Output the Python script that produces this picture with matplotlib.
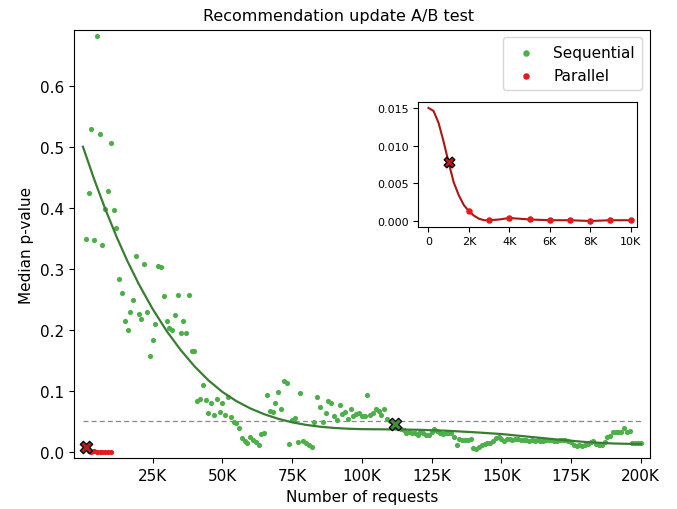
import matplotlib
matplotlib.use("Agg")
import matplotlib.pyplot as plt
from matplotlib.ticker import FuncFormatter, FixedLocator

# ---------------- data ----------------
seq_k = list(range(1, 201))  # thousands of requests
seq_p = [
    0.349, 0.424, 0.529, 0.347, 0.682, 0.521, 0.339, 0.398, 0.428, 0.506,
    0.397, 0.367, 0.283, 0.261, 0.214, 0.199, 0.229, 0.248, 0.321, 0.226,
    0.218, 0.307, 0.2295, 0.157, 0.183, 0.209, 0.304, 0.302, 0.255, 0.215,
    0.203, 0.1995, 0.224, 0.257, 0.1946, 0.214, 0.195, 0.257, 0.165, 0.1656,
    0.0836, 0.0864, 0.110, 0.0842, 0.0634, 0.080, 0.0607, 0.0858, 0.0645, 0.0804,
    0.0607, 0.0897, 0.0563, 0.0492, 0.0476, 0.0389, 0.022, 0.0176, 0.0143, 0.0235,
    0.0191, 0.0153, 0.0115, 0.029, 0.0306, 0.0935, 0.0661, 0.065, 0.080, 0.0984,
    0.070, 0.1164, 0.112, 0.012, 0.052, 0.0558, 0.0164, 0.0957, 0.0176, 0.0143,
    0.011, 0.0077, 0.0492, 0.0897, 0.0733, 0.0492, 0.064, 0.0825, 0.0804, 0.0591,
    0.0514, 0.076, 0.0618, 0.065, 0.053, 0.0695, 0.059, 0.0618, 0.0634, 0.059,
    0.058, 0.0924, 0.0602, 0.0629, 0.0706, 0.0673, 0.0602, 0.0695, 0.0536, 0.0509,
    0.0454, 0.0454, 0.041, 0.038, 0.035, 0.031, 0.032, 0.030, 0.031, 0.027,
    0.032, 0.031, 0.027, 0.028, 0.033, 0.037, 0.034, 0.031, 0.029, 0.031,
    0.030, 0.031, 0.024, 0.011, 0.021, 0.020, 0.019, 0.020, 0.021, 0.006,
    0.0044, 0.0085, 0.011, 0.0126, 0.014, 0.015, 0.017, 0.022, 0.024, 0.021,
    0.018, 0.021, 0.021, 0.020, 0.021, 0.021, 0.020, 0.019, 0.020, 0.018,
    0.019, 0.018, 0.019, 0.017, 0.018, 0.019, 0.020, 0.019, 0.017, 0.018,
    0.019, 0.0197, 0.019, 0.018, 0.0164, 0.0115, 0.0099, 0.011, 0.0099, 0.011,
    0.0126, 0.0153, 0.018, 0.0126, 0.011, 0.0115, 0.0153, 0.0235, 0.0252, 0.0317,
    0.0328, 0.0317, 0.0328, 0.0388, 0.0317, 0.0334, 0.0137, 0.0137, 0.0137, 0.0142,
]

seq_fit_k = [0, 4, 8, 12, 16, 20, 25, 30, 35, 40, 45, 50, 55, 60, 65, 70, 75, 80,
             85, 90, 95, 100, 110, 120, 130, 140, 150, 160, 170, 180, 190, 200]
seq_fit_p = [0.500, 0.447, 0.398, 0.353, 0.312, 0.275, 0.234, 0.198, 0.167, 0.140,
             0.117, 0.098, 0.083, 0.071, 0.0615, 0.054, 0.0482, 0.044, 0.041, 0.039,
             0.0377, 0.037, 0.0366, 0.036, 0.0345, 0.032, 0.029, 0.0245, 0.020, 0.016,
             0.0135, 0.0125]

par_k = [1, 2, 3, 4, 5, 6, 7, 8, 9, 10]
par_p = [0.0078, 0.0013, 0.0001, 0.0004, 0.0002, 0.0001, 0.0001, 0.0000, 0.0001, 0.0001]

par_fit_k = [0, 0.25, 0.5, 0.75, 1.0, 1.25, 1.5, 1.75, 2.0, 2.25, 2.5, 2.75, 3.0,
             3.5, 4.0, 4.5, 5, 6, 7, 8, 9, 10]
par_fit_p = [0.0150, 0.0146, 0.0130, 0.0105, 0.0077, 0.0051, 0.0034, 0.0021, 0.0013,
             0.0007, 0.0003, 0.0001, 0.0001, 0.0002, 0.0004, 0.0003, 0.0002, 0.0001,
             0.0001, 0.0000, 0.0001, 0.0001]

seq_cross_k, seq_cross_p = 112, 0.0454
par_cross_k, par_cross_p = 1, 0.0078
threshold = 0.05

main_xticks_k = [25, 50, 75, 100, 125, 150, 175, 200]
main_yticks = [0.0, 0.1, 0.2, 0.3, 0.4, 0.5, 0.6]
inset_xticks_k = [0, 2, 4, 6, 8, 10]
inset_yticks = [0.000, 0.005, 0.010, 0.015]

# ---------------- style ----------------
GREEN = "#4daf4a"
GREEN_LINE = "#387d32"
RED = "#e41a1c"
RED_LINE = "#ad1414"


def kfmt(x, pos):
    if x == 0:
        return "0"
    return f"{x/1000:.0f}K"


fig = plt.figure(figsize=(6.77, 5.10), dpi=100)
ax = fig.add_axes([0.1093, 0.0994, 0.8508, 0.8406])

sx = [k * 1000 for k in seq_k]
ax.scatter(sx, seq_p, s=14, color=GREEN, label="Sequential", zorder=2, linewidths=0)
ax.scatter([k * 1000 for k in par_k[1:]], par_p[1:], s=14, color=RED,
           label="Parallel", zorder=2, linewidths=0)
ax.plot([k * 1000 for k in seq_fit_k], seq_fit_p, color=GREEN_LINE, lw=1.6, zorder=3)
ax.hlines(threshold, 0, 200000, colors="#888888", linestyles=(0, (4, 2.5)), lw=0.9, zorder=1)
ax.scatter([seq_cross_k * 1000], [seq_cross_p], marker="X", s=80, color="#3f8f3a",
           edgecolors="black", linewidths=0.9, zorder=5)
ax.scatter([par_cross_k * 1000], [par_cross_p], marker="X", s=80, color="#b51e1e",
           edgecolors="black", linewidths=0.9, zorder=5)

ax.set_xlim(-3200, 203300)
ax.set_ylim(-0.0108, 0.692)
ax.xaxis.set_major_locator(FixedLocator([k * 1000 for k in main_xticks_k]))
ax.xaxis.set_major_formatter(FuncFormatter(kfmt))
ax.set_yticks(main_yticks)
ax.set_yticklabels([f"{v:.1f}" for v in main_yticks])
ax.tick_params(labelsize=11)
ax.set_xlabel("Number of requests", fontsize=11)
ax.set_ylabel("Median p-value", fontsize=11)
fig.text(0.5, 0.968, "Recommendation update A/B test", fontsize=11.5,
         ha="center", va="center")
ax.legend(loc="upper right", fontsize=11, borderpad=0.5, labelspacing=0.5,
          markerscale=1.25)

# ---------------- inset ----------------
ia = fig.add_axes([0.618, 0.5535, 0.3225, 0.244])
ia.plot([k * 1000 for k in par_fit_k], par_fit_p, color=RED_LINE, lw=1.5, zorder=2)
ia.scatter([k * 1000 for k in par_k[1:]], par_p[1:], s=22, color=RED, linewidths=0, zorder=3)
ia.scatter([par_cross_k * 1000], [par_cross_p], marker="X", s=60, color="#b51e1e",
           edgecolors="black", linewidths=0.9, zorder=5)
ia.set_xlim(-500, 10300)
ia.set_ylim(-0.00076, 0.01575)
ia.xaxis.set_major_locator(FixedLocator([k * 1000 for k in inset_xticks_k]))
ia.xaxis.set_major_formatter(FuncFormatter(kfmt))
ia.set_yticks(inset_yticks)
ia.set_yticklabels([f"{v:.3f}" for v in inset_yticks])
ia.tick_params(labelsize=8)

fig.savefig("out.png", dpi=100)
